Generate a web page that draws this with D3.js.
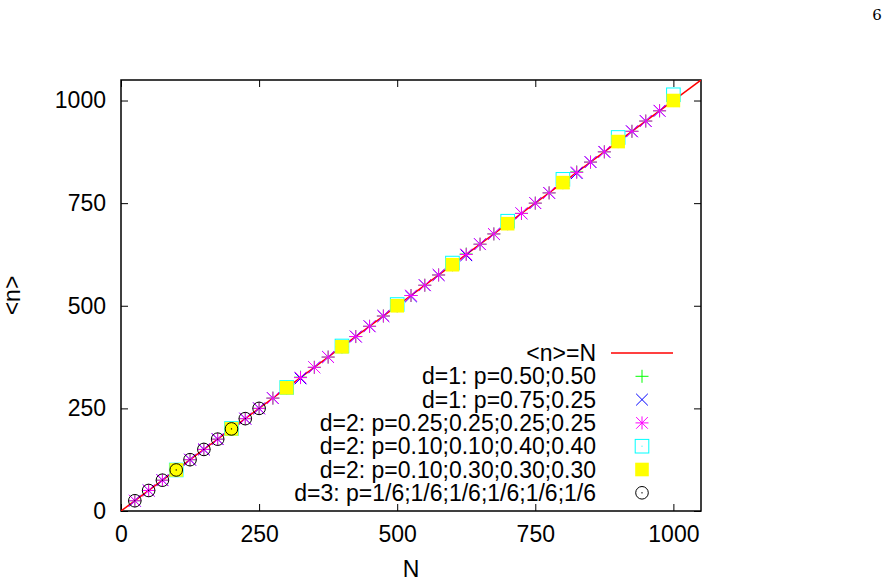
<!DOCTYPE html>
<html><head><meta charset="utf-8">
<script src="https://d3js.org/d3.v7.min.js"></script>
<style>body{margin:0;background:#fff}svg{display:block}</style>
</head><body>
<script>
// ---- data ----
const xTicks = [0, 250, 500, 750, 1000];
const yTicks = [0, 250, 500, 750, 1000];
const N25 = [25,50,75,100,125,150,175,200,225,250,275,300,325,350,375,400,425,450,475,500,525,550,575,600,625,650,675,700,725,750,775,800,825,850,875,900,925,950,975,1000];
const d1a = [25,50,75,100,125,150,175,200,225,250,275,300,326,350,375,400,425,450,475,500,525,550,575,600,626,650,675,700,725,750,775,800,826,850,875,900,925,950,975,1000];
const d1b = [25,50,75,100,125,150,175,200,225,250,275,300,323,350,375,400,425,450,475,500,523,550,575,600,623,650,675,700,725,750,775,800,823,850,875,900,925,950,975,1000];
const d2star = [25,50,75,100,125,150,175,200,225,250,275,300,325,350,375,400,425,450,475,500,525,550,575,600,625,650,675,700,725,750,775,800,825,850,875,900,925,950,975,1000];
const N100 = [100,200,300,400,500,600,700,800,900,1000];
const d2cyan = [100,201,301,402,503,604,706,808,910,1014];
const d2yellow = [100,200,300,400,500,600,700,800,900,1000];
const N3 = [25,50,75,100,125,150,175,200,225,250];
const d3v = [25,50,75,100,125,150,175,200,225,250];
const legendLabels = ["<n>=N","d=1: p=0.50;0.50","d=1: p=0.75;0.25","d=2: p=0.25;0.25;0.25;0.25","d=2: p=0.10;0.10;0.40;0.40","d=2: p=0.10;0.30;0.30;0.30","d=3: p=1/6;1/6;1/6;1/6;1/6;1/6"];

const W = 888, H = 583;
const L = 121, R = 701, T = 80, B = 511;
const font = "'Liberation Sans', Arial, sans-serif";
const fs = 23;
const svg = d3.select("body").append("svg").attr("width", W).attr("height", H);
const x = d3.scaleLinear().domain([0, 1050]).range([L, R]);
const y = d3.scaleLinear().domain([0, 1050]).range([B, T]);

// page number
svg.append("text").attr("x", 877).attr("y", 20).attr("text-anchor","middle")
  .attr("font-family","'DejaVu Serif','Liberation Serif',serif").attr("font-size",15).text("6");

// axes with inward ticks (mirror on all sides)
const tl = 7;
svg.append("g").attr("transform",`translate(0,${B})`)
  .call(d3.axisBottom(x).tickValues(xTicks).tickSize(-tl).tickPadding(15).tickFormat(d3.format("d")))
  .call(g=>{g.select(".domain").remove();g.selectAll("text").attr("font-size",fs).attr("font-family",font).attr("fill","#000");});
svg.append("g").attr("transform",`translate(0,${T})`)
  .call(d3.axisTop(x).tickValues(xTicks).tickSize(-tl).tickFormat(""))
  .call(g=>g.select(".domain").remove());
svg.append("g").attr("transform",`translate(${L},0)`)
  .call(d3.axisLeft(y).tickValues(yTicks).tickSize(-tl).tickPadding(15).tickFormat(d3.format("d")))
  .call(g=>{g.select(".domain").remove();g.selectAll("text").attr("font-size",fs).attr("font-family",font).attr("fill","#000");});
svg.append("g").attr("transform",`translate(${R},0)`)
  .call(d3.axisRight(y).tickValues(yTicks).tickSize(-tl).tickFormat(""))
  .call(g=>g.select(".domain").remove());
svg.selectAll(".tick line").attr("stroke","#000").attr("stroke-width",1);

// frame
svg.append("rect").attr("x",L).attr("y",T).attr("width",R-L).attr("height",B-T)
  .attr("fill","none").attr("stroke","#000").attr("stroke-width",1.5);

// axis labels
svg.append("text").attr("x",(L+R)/2).attr("y",577).attr("text-anchor","middle")
  .attr("font-family",font).attr("font-size",fs).text("N");
svg.append("text").attr("transform",`translate(20,${(T+B)/2}) rotate(-90)`).attr("text-anchor","middle")
  .attr("font-family",font).attr("font-size",fs).text("<n>");

const plot = svg.append("g");
svg.append("clipPath").attr("id","c").append("rect").attr("x",L).attr("y",T).attr("width",R-L).attr("height",B-T);

// markers
const s = 6.5;
function plus(g, cx, cy, col){ g.append("path").attr("d",`M${cx-s},${cy}H${cx+s}M${cx},${cy-s}V${cy+s}`).attr("stroke",col).attr("stroke-width",1).attr("fill","none"); }
function cross(g, cx, cy, col){ const a=s*0.9; g.append("path").attr("d",`M${cx-a},${cy-a}L${cx+a},${cy+a}M${cx-a},${cy+a}L${cx+a},${cy-a}`).attr("stroke",col).attr("stroke-width",1).attr("fill","none"); }
function star(g, cx, cy, col){ plus(g,cx,cy,col); cross(g,cx,cy,col); }
function openSq(g, cx, cy, col){ const a=6.8; g.append("rect").attr("x",cx-a).attr("y",cy-a).attr("width",2*a).attr("height",2*a).attr("fill","none").attr("stroke",col).attr("stroke-width",1);
  g.append("rect").attr("x",cx-0.5).attr("y",cy-0.5).attr("width",1).attr("height",1).attr("fill",col); }
function fillSq(g, cx, cy, col){ const a=6.8; g.append("rect").attr("x",cx-a).attr("y",cy-a).attr("width",2*a).attr("height",2*a).attr("fill",col); }
function circ(g, cx, cy, col){ g.append("circle").attr("cx",cx).attr("cy",cy).attr("r",6.3).attr("fill","none").attr("stroke",col).attr("stroke-width",1);
  g.append("rect").attr("x",cx-0.6).attr("y",cy-0.6).attr("width",1.2).attr("height",1.2).attr("fill",col); }

// reference line
plot.append("line").attr("clip-path","url(#c)").attr("x1",x(0)).attr("y1",y(0)).attr("x2",x(1050)).attr("y2",y(1050))
  .attr("stroke","#ff0000").attr("stroke-width",1.5);

N25.forEach((n,i)=>plus(plot, x(n), y(d1a[i]), "#00ff00"));
N25.forEach((n,i)=>cross(plot, x(n), y(d1b[i]), "#0000ff"));
N25.forEach((n,i)=>star(plot, x(n), y(d2star[i]), "#ff00ff"));
N100.forEach((n,i)=>openSq(plot, x(n), y(d2cyan[i]), "#00ffff"));
N100.forEach((n,i)=>fillSq(plot, x(n), y(d2yellow[i]), "#ffff00"));
N3.forEach((n,i)=>circ(plot, x(n), y(d3v[i]), "#000000"));

// legend
const lg = svg.append("g");
const rowY = i => 353 + i*23.3;
legendLabels.forEach((t,i)=>{
  lg.append("text").attr("x",596).attr("y",rowY(i)+8).attr("text-anchor","end")
    .attr("font-family",font).attr("font-size",fs).text(t);
});
lg.append("line").attr("x1",611).attr("x2",673).attr("y1",rowY(0)).attr("y2",rowY(0)).attr("stroke","#ff0000").attr("stroke-width",1.5);
plus(lg,642,rowY(1),"#00ff00");
cross(lg,642,rowY(2),"#0000ff");
star(lg,642,rowY(3),"#ff00ff");
openSq(lg,642,rowY(4),"#00ffff");
fillSq(lg,642,rowY(5),"#ffff00");
circ(lg,642,rowY(6),"#000000");
</script>
</body></html>
